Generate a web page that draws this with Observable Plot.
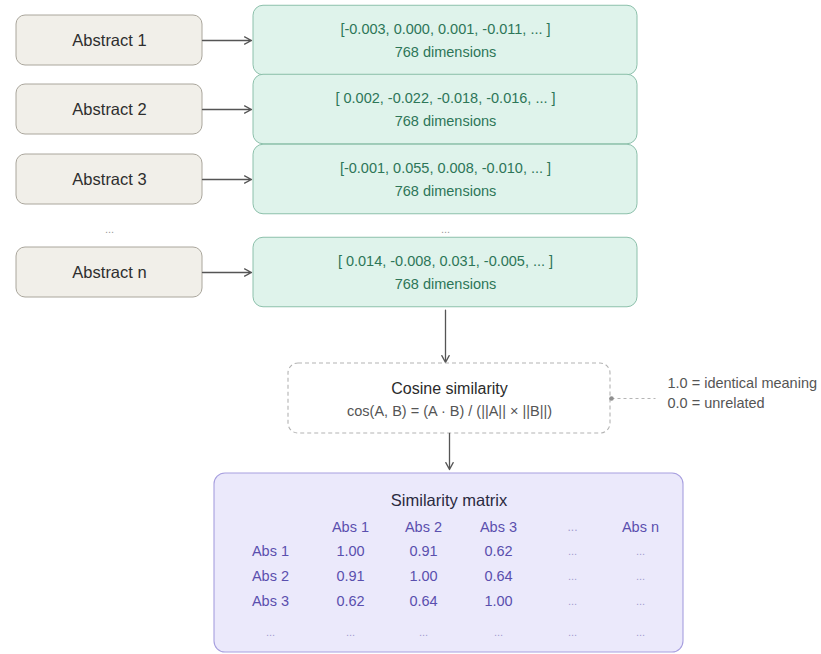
<!DOCTYPE html>
<html>
<head>
<meta charset="utf-8">
<script src="https://cdn.jsdelivr.net/npm/d3@7"></script>
<script src="https://cdn.jsdelivr.net/npm/@observablehq/plot@0.6"></script>
<style>
  html, body { margin: 0; padding: 0; background: #ffffff; }
  #chart svg { display: block; }
</style>
</head>
<body>
<div id="chart"></div>
<script>
// ---- data ----
const abstracts = ["Abstract 1", "Abstract 2", "Abstract 3", "Abstract n"];
const vectors = [
  "[-0.003, 0.000, 0.001, -0.011, ... ]",
  "[ 0.002, -0.022, -0.018, -0.016, ... ]",
  "[-0.001, 0.055, 0.008, -0.010, ... ]",
  "[ 0.014, -0.008, 0.031, -0.005, ... ]"
];
const dimensionLabel = "768 dimensions";
const cosineTitle = "Cosine similarity";
const cosineFormula = "cos(A, B) = (A · B) / (||A|| × ||B||)";
const cosineNotes = ["1.0 = identical meaning", "0.0 = unrelated"];
const matrixTitle = "Similarity matrix";
const matrixCols = ["Abs 1", "Abs 2", "Abs 3", "...", "Abs n"];
const matrixRows = ["Abs 1", "Abs 2", "Abs 3", "..."];
const matrixValues = [
  [1.00, 0.91, 0.62, null, null],
  [0.91, 1.00, 0.64, null, null],
  [0.62, 0.64, 1.00, null, null],
  [null, null, null, null, null]
];

// ---- layout (diagram geometry) ----
const L = {
  rowY: [40, 109, 179, 272], gapY: 229,
  left: {x1: 16, x2: 202, half: 25},
  green: {x1: 253, x2: 637, half: 34.75, line1: -11, line2: 12},
  cos: {x1: 288, x2: 610, y1: 363, y2: 433, title: 388, formula: 411},
  note: {x: 667, y: [383, 403], dotY: 398, lineEnd: 655},
  mat: {x1: 214, x2: 683, y1: 473, y2: 652, title: 500, header: 527,
        rowLabelX: 270, colX: [350, 423, 498, 572, 640], rowY: [551, 576, 601, 632]}
};
const leftCx = (L.left.x1 + L.left.x2) / 2;
const greenCx = (L.green.x1 + L.green.x2) / 2;
const cosCx = (L.cos.x1 + L.cos.x2) / 2;

const rows = abstracts.map((a, i) => ({label: a, vec: vectors[i], y: L.rowY[i]}));
const cells = [];
matrixRows.forEach((r, i) => matrixCols.forEach((c, j) => {
  const v = matrixValues[i][j];
  cells.push({x: L.mat.colX[j], y: L.mat.rowY[i], text: v == null ? "..." : v.toFixed(2), dim: v == null});
}));
const headers = matrixCols.map((c, j) => ({x: L.mat.colX[j], y: L.mat.header, text: c, dim: c === "..."}));
const rowLabels = matrixRows.map((r, i) => ({x: L.mat.rowLabelX, y: L.mat.rowY[i], text: r, dim: r === "..."}));

const font = "'Liberation Sans', Arial, Helvetica, sans-serif";
const purple = "#5a4fae", purpleDim = "#a39dce";
const arrowStyle = {stroke: "#555555", strokeWidth: 1.3, headLength: 9, headAngle: 56};

const chart = Plot.plot({
  width: 821, height: 654,
  margin: 0,
  x: {domain: [0, 821], range: [0, 821], axis: null},
  y: {domain: [0, 654], range: [0, 654], axis: null},
  style: {fontFamily: font, background: "#ffffff"},
  marks: [
    // left abstract boxes
    Plot.rect(rows, {x1: L.left.x1, x2: L.left.x2, y1: d => d.y - L.left.half, y2: d => d.y + L.left.half,
      fill: "#f1efe9", stroke: "#aaa69c", strokeWidth: 1, rx: 9}),
    Plot.text(rows, {x: leftCx, y: "y", text: "label", fontSize: 16.5, fill: "#2e2e2e"}),
    Plot.text(["..."], {x: leftCx, y: L.gapY, text: d => d, fontSize: 11, fill: "#9a9a9a"}),
    // arrows to embeddings
    Plot.arrow(rows, {x1: L.left.x2, x2: L.green.x1 - 2, y1: "y", y2: "y", ...arrowStyle}),
    // embedding boxes
    Plot.rect(rows, {x1: L.green.x1, x2: L.green.x2, y1: d => d.y - L.green.half, y2: d => d.y + L.green.half,
      fill: "#dff3eb", stroke: "#8cc0ab", strokeWidth: 1, rx: 10}),
    Plot.text(rows, {x: greenCx, y: d => d.y + L.green.line1, text: "vec", fontSize: 14.5, fill: "#2d7658"}),
    Plot.text(rows, {x: greenCx, y: d => d.y + L.green.line2, text: () => dimensionLabel, fontSize: 14.5, fill: "#2d7658"}),
    Plot.text(["..."], {x: greenCx, y: L.gapY, text: d => d, fontSize: 11, fill: "#9a9a9a"}),
    // arrow down to cosine box
    Plot.arrow([0], {x1: greenCx, x2: greenCx, y1: L.rowY[3] + L.green.half + 3, y2: L.cos.y1 - 1, ...arrowStyle}),
    // cosine similarity box
    Plot.rect([0], {x1: L.cos.x1, x2: L.cos.x2, y1: L.cos.y1, y2: L.cos.y2, fill: "#ffffff", stroke: "#b3b3b3", strokeWidth: 1.1, strokeDasharray: "4,3", rx: 10}),
    Plot.text([cosineTitle], {x: cosCx, y: L.cos.title, text: d => d, fontSize: 16, fill: "#2b2b2b"}),
    Plot.text([cosineFormula], {x: cosCx, y: L.cos.formula, text: d => d, fontSize: 14.5, fill: "#555555"}),
    // annotation connector
    Plot.link([0], {x1: L.cos.x2 + 1, x2: L.note.lineEnd, y1: L.note.dotY, y2: L.note.dotY, stroke: "#b5b5b5", strokeWidth: 1, strokeDasharray: "3,3"}),
    Plot.dot([0], {x: L.cos.x2 + 1, y: L.note.dotY, r: 2.3, fill: "#8f8f8f"}),
    Plot.text(cosineNotes, {x: L.note.x, y: (d, i) => L.note.y[i], text: d => d, textAnchor: "start", fontSize: 14.5, fill: "#555555"}),
    // arrow down to matrix
    Plot.arrow([0], {x1: cosCx, x2: cosCx, y1: L.cos.y2, y2: L.mat.y1 - 4, ...arrowStyle}),
    // matrix box
    Plot.rect([0], {x1: L.mat.x1, x2: L.mat.x2, y1: L.mat.y1, y2: L.mat.y2, fill: "#ebe9fb", stroke: "#a79fdf", strokeWidth: 1.1, rx: 11}),
    Plot.text([matrixTitle], {x: (L.mat.x1 + L.mat.x2) / 2, y: L.mat.title, text: d => d, fontSize: 16.5, fill: "#2a2940"}),
    Plot.text(headers, {x: "x", y: "y", text: "text", fontSize: d => d.dim ? 12 : 14.5, fill: d => d.dim ? purpleDim : purple}),
    Plot.text(rowLabels, {x: "x", y: "y", text: "text", fontSize: d => d.dim ? 11 : 14.5, fill: d => d.dim ? purpleDim : purple}),
    Plot.text(cells, {x: "x", y: "y", text: "text", fontSize: d => d.dim ? 11 : 14.5, fill: d => d.dim ? purpleDim : purple})
  ]
});
document.getElementById("chart").appendChild(chart);
</script>
</body>
</html>
